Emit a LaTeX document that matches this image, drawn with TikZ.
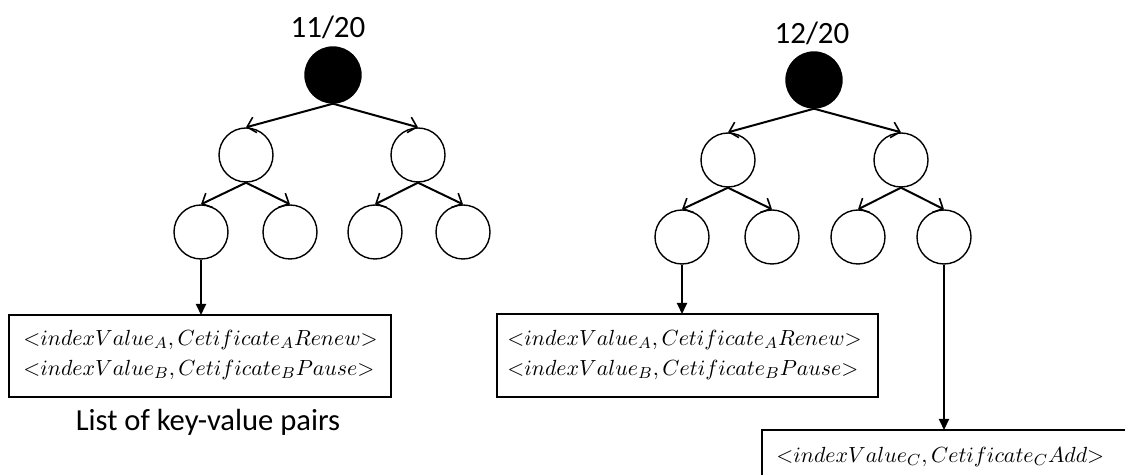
\documentclass[tikz,border=0pt]{standalone}
\usepackage{fontspec}
\setmainfont{Carlito}
\usetikzlibrary{arrows.meta}
\begin{document}
\begin{tikzpicture}[x=0.5pt,y=-0.5pt,
  nd/.style={circle,draw,line width=0.7pt,minimum size=27pt,inner sep=0pt},
  rootnd/.style={nd,fill=black,minimum size=28pt},
  edge/.style={line width=1pt,-{Straight Barb[length=4pt,width=8pt,line width=0.8pt]}},
  down/.style={line width=1pt,-{Triangle[length=5.5pt,width=5pt]}},
  kvbox/.style={draw,line width=0.7pt,anchor=north west,inner sep=0pt},
  kvtext/.style={anchor=west,font=\fontsize{11.2}{13}\selectfont,inner sep=0pt},
  lbl/.style={font=\fontsize{15.5}{17}\selectfont,inner sep=0pt}
]
\useasboundingbox (0,0) rectangle (1125,475);
\clip (0,0) rectangle (1125,475);
% left tree
\node[lbl] (lab1) at (328,27) {11/20};
\node[rootnd] (r1) at (333,75) {};
\node[nd] (a1) at (246,155) {};
\node[nd] (b1) at (418,155) {};
\node[nd] (a1l) at (201,232) {};
\node[nd] (a1r) at (290,232) {};
\node[nd] (b1l) at (375,232) {};
\node[nd] (b1r) at (463,232) {};
\draw[edge] (r1.south) -- (a1.north);
\draw[edge] (r1.south) -- (b1.north);
\draw[edge] (a1.south) -- (a1l.north);
\draw[edge] (a1.south) -- (a1r.north);
\draw[edge] (b1.south) -- (b1l.north);
\draw[edge] (b1.south) -- (b1r.north);
\draw[kvbox] (9,315) rectangle (391,397);
\node[kvbox,draw=none,minimum width=191pt,minimum height=41pt] (box1) at (9,315) {};
\node[kvtext] (t1a) at (23,340) {${<}indexValue_A, Cetificate_ARenew{>}$};
\node[kvtext] (t1b) at (23,370) {${<}indexValue_B, Cetificate_BPause{>}$};
\draw[down] (a1l.south) -- (a1l.south |- box1.north);
\node[font=\fontsize{15.3}{17}\selectfont,inner sep=0pt] (cap) at (208,422) {List of key-value pairs};
% right tree
\node[lbl] (lab2) at (812,33) {12/20};
\node[rootnd] (r2) at (814,80) {};
\node[nd] (a2) at (728,160) {};
\node[nd] (b2) at (901,160) {};
\node[nd] (a2l) at (682,237) {};
\node[nd] (a2r) at (772,237) {};
\node[nd] (b2l) at (858,237) {};
\node[nd] (b2r) at (944,237) {};
\draw[edge] (r2.south) -- (a2.north);
\draw[edge] (r2.south) -- (b2.north);
\draw[edge] (a2.south) -- (a2l.north);
\draw[edge] (a2.south) -- (a2r.north);
\draw[edge] (b2.south) -- (b2l.north);
\draw[edge] (b2.south) -- (b2r.north);
\draw[kvbox] (497,314) rectangle (878,397);
\node[kvbox,draw=none,minimum width=190.5pt,minimum height=41.5pt] (box2) at (497,314) {};
\node[kvtext] (t2a) at (507,340) {${<}indexValue_A, Cetificate_ARenew{>}$};
\node[kvtext] (t2b) at (507,370) {${<}indexValue_B, Cetificate_BPause{>}$};
\draw[down] (a2l.south) -- (a2l.south |- box2.north);
\draw[kvbox] (762,430) rectangle (1135,485);
\node[kvbox,draw=none,minimum width=186pt,minimum height=27pt] (box3) at (762,430) {};
\node[kvtext] (t3) at (776,457) {${<}indexValue_C, Cetificate_CAdd{>}$};
\draw[down] (b2r.south) -- (b2r.south |- box3.north);
\end{tikzpicture}
\end{document}
